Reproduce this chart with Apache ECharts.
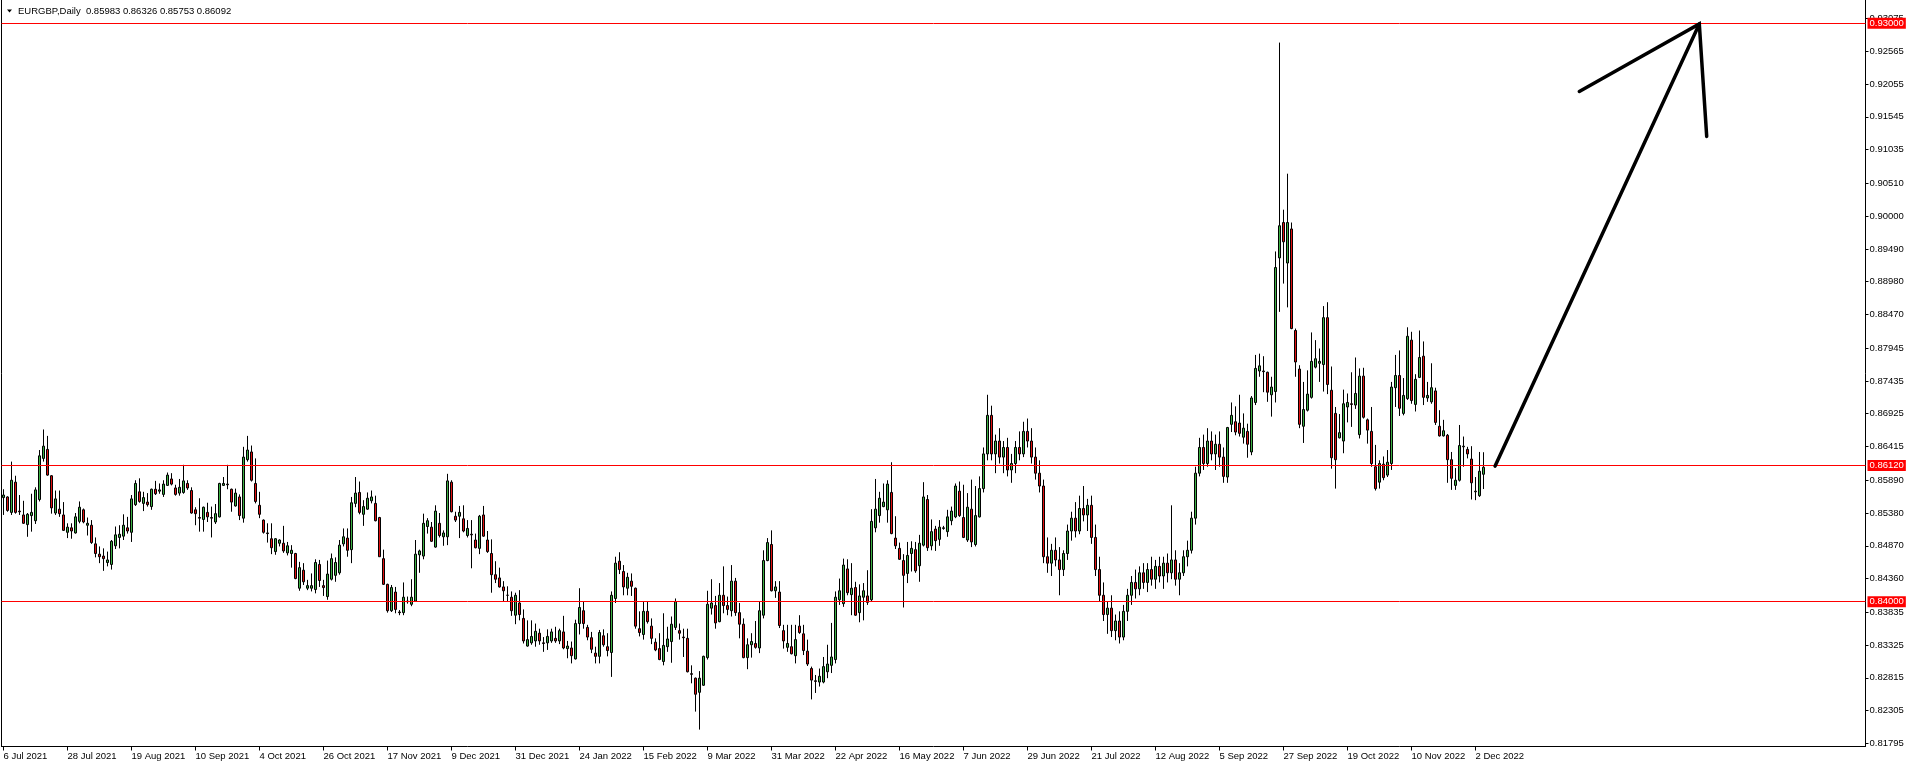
<!DOCTYPE html>
<html>
<head>
<meta charset="utf-8">
<script src="https://cdn.jsdelivr.net/npm/echarts@6/dist/echarts.min.js"></script>
<style>
html,body{margin:0;padding:0;background:#fff;}
#chart{width:1912px;height:768px;}
</style>
</head>
<body>
<div id="chart"></div>
<script>
const symbolTitle = 'EURGBP,Daily';
const lastBar = '0.85983 0.86326 0.85753 0.86092';

const tickLabels = ['6 Jul 2021','28 Jul 2021','19 Aug 2021','10 Sep 2021','4 Oct 2021','26 Oct 2021','17 Nov 2021','9 Dec 2021','31 Dec 2021','24 Jan 2022','15 Feb 2022','9 Mar 2022','31 Mar 2022','22 Apr 2022','16 May 2022','7 Jun 2022','29 Jun 2022','21 Jul 2022','12 Aug 2022','5 Sep 2022','27 Sep 2022','19 Oct 2022','10 Nov 2022','2 Dec 2022'];
const barsPerLabel = 16;
const totalSlots = 466;

const priceTicks = [0.93075,0.92565,0.92055,0.91545,0.91035,0.90510,0.90000,0.89490,0.88980,0.88470,0.87945,0.87435,0.86925,0.86415,0.85890,0.85380,0.84870,0.84360,0.83835,0.83325,0.82815,0.82305,0.81795];
const levels = [0.93000, 0.86120, 0.84000];
const bidPrice = 0.86092;

const arrowShaft = [[372.9, 0.8611], [423.95, 0.9299]];
const arrowHead = [[393.95, 0.9194], [423.95, 0.9299], [425.8, 0.9124]];

const opens = [
0.8562,0.8563,0.8539,0.8586,0.8541,0.8535,0.8520,0.8534,0.8526,0.8559,
0.8623,0.8637,0.8596,0.8538,0.8544,0.8535,0.8508,0.8515,0.8507,0.8525,
0.8543,0.8519,0.8519,0.8490,0.8474,0.8471,0.8461,0.8458,0.8487,0.8500,
0.8502,0.8515,0.8508,0.8551,0.8571,0.8553,0.8555,0.8548,0.8575,0.8572,
0.8567,0.8581,0.8591,0.8577,0.8569,0.8570,0.8584,0.8573,0.8543,0.8531,
0.8528,0.8539,0.8531,0.8524,0.8532,0.8581,0.8583,0.8575,0.8549,0.8563,
0.8530,0.8621,0.8633,0.8584,0.8550,0.8527,0.8507,0.8498,0.8478,0.8491,
0.8491,0.8476,0.8475,0.8475,0.8421,0.8449,0.8421,0.8421,0.8419,0.8458,
0.8425,0.8408,0.8435,0.8441,0.8445,0.8490,0.8499,0.8481,0.8553,0.8570,
0.8536,0.8544,0.8557,0.8553,0.8531,0.8467,0.8427,0.8386,0.8415,0.8384,
0.8383,0.8401,0.8396,0.8401,0.8473,0.8471,0.8517,0.8516,0.8485,0.8522,
0.8501,0.8501,0.8586,0.8533,0.8533,0.8529,0.8503,0.8505,0.8496,0.8483,
0.8535,0.8496,0.8475,0.8442,0.8437,0.8423,0.8410,0.8407,0.8379,0.8398,
0.8374,0.8331,0.8336,0.8339,0.8351,0.8336,0.8336,0.8339,0.8343,0.8339,
0.8353,0.8327,0.8328,0.8311,0.8366,0.8386,0.8360,0.8344,0.8320,0.8315,
0.8347,0.8330,0.8321,0.8405,0.8463,0.8447,0.8421,0.8432,0.8421,0.8358,
0.8349,0.8385,0.8362,0.8337,0.8327,0.8307,0.8330,0.8338,0.8360,0.8355,
0.8345,0.8343,0.8288,0.8281,0.8259,0.8270,0.8313,0.8390,0.8394,0.8369,
0.8410,0.8394,0.8386,0.8432,0.8383,0.8365,0.8313,0.8333,0.8335,0.8328,
0.8379,0.8464,0.8489,0.8417,0.8415,0.8355,0.8329,0.8330,0.8316,0.8362,
0.8350,0.8323,0.8296,0.8277,0.8275,0.8275,0.8291,0.8301,0.8310,0.8403,
0.8397,0.8451,0.8411,0.8422,0.8383,0.8407,0.8409,0.8403,0.8515,0.8534,
0.8548,0.8543,0.8570,0.8499,0.8483,0.8464,0.8444,0.8475,0.8481,0.8456,
0.8488,0.8559,0.8487,0.8513,0.8497,0.8514,0.8509,0.8526,0.8532,0.8572,
0.8531,0.8496,0.8544,0.8489,0.8532,0.8576,0.8630,0.8690,0.8630,0.8650,
0.8625,0.8640,0.8605,0.8615,0.8640,0.8630,0.8665,0.8650,0.8625,0.8600,
0.8580,0.8470,0.8460,0.8480,0.8465,0.8450,0.8475,0.8510,0.8530,0.8510,
0.8545,0.8535,0.8550,0.8500,0.8450,0.8410,0.8380,0.8390,0.8355,0.8370,
0.8345,0.8385,0.8410,0.8430,0.8420,0.8445,0.8430,0.8450,0.8435,0.8455,
0.8440,0.8460,0.8445,0.8465,0.8435,0.8445,0.8470,0.8480,0.8530,0.8600,
0.8640,0.8615,0.8650,0.8630,0.8645,0.8625,0.8594,0.8676,0.8680,0.8678,
0.8656,0.8665,0.8633,0.8710,0.8759,0.8759,0.8757,0.8722,0.8727,0.8935,
0.8990,0.8927,0.8980,0.8822,0.8762,0.8673,0.8698,0.8718,0.8765,0.8771,
0.8769,0.8842,0.8729,0.8693,0.8655,0.8650,0.8703,0.8708,0.8706,0.8660,
0.8751,0.8683,0.8665,0.8610,0.8586,0.8614,0.8597,0.8615,0.8733,0.8752,
0.8693,0.8716,0.8807,0.8707,0.8749,0.8782,0.8717,0.8711,0.8728,0.8673,
0.8658,0.8659,0.8621,0.8581,0.8589,0.8641,0.8637,0.8622,0.8571,0.8565,
0.85983];

const highs = [
0.8575,0.8564,0.8618,0.8596,0.8566,0.8557,0.8538,0.8568,0.8578,0.8636,
0.8668,0.8658,0.8597,0.8573,0.8573,0.8555,0.8522,0.8522,0.8538,0.8556,
0.8545,0.8531,0.8527,0.8500,0.8486,0.8483,0.8478,0.8496,0.8517,0.8519,
0.8536,0.8532,0.8566,0.8589,0.8592,0.8571,0.8569,0.8576,0.8588,0.8584,
0.8589,0.8601,0.8600,0.8582,0.8591,0.8613,0.8589,0.8578,0.8547,0.8561,
0.8548,0.8554,0.8548,0.8552,0.8585,0.8594,0.8613,0.8576,0.8576,0.8567,
0.8641,0.8658,0.8643,0.8623,0.8571,0.8528,0.8522,0.8522,0.8499,0.8497,
0.8518,0.8493,0.8488,0.8476,0.8462,0.8460,0.8434,0.8444,0.8466,0.8465,
0.8434,0.8464,0.8475,0.8469,0.8496,0.8514,0.8514,0.8563,0.8594,0.8587,
0.8558,0.8570,0.8573,0.8565,0.8532,0.8481,0.8428,0.8426,0.8423,0.8387,
0.8430,0.8408,0.8435,0.8496,0.8481,0.8537,0.8530,0.8524,0.8550,0.8538,
0.8511,0.8599,0.8589,0.8540,0.8549,0.8550,0.8527,0.8527,0.8506,0.8535,
0.8549,0.8510,0.8497,0.8463,0.8453,0.8432,0.8424,0.8416,0.8414,0.8418,
0.8388,0.8371,0.8371,0.8366,0.8358,0.8345,0.8357,0.8358,0.8361,0.8358,
0.8378,0.8339,0.8338,0.8372,0.8421,0.8400,0.8364,0.8353,0.8330,0.8356,
0.8357,0.8351,0.8416,0.8470,0.8477,0.8457,0.8445,0.8444,0.8422,0.8385,
0.8400,0.8400,0.8374,0.8343,0.8351,0.8382,0.8361,0.8377,0.8405,0.8366,
0.8358,0.8358,0.8301,0.8282,0.8292,0.8316,0.8417,0.8435,0.8409,0.8429,
0.8455,0.8408,0.8457,0.8437,0.8398,0.8374,0.8343,0.8351,0.8370,0.8400,
0.8480,0.8499,0.8511,0.8432,0.8432,0.8364,0.8364,0.8364,0.8364,0.8379,
0.8364,0.8341,0.8299,0.8286,0.8296,0.8314,0.8333,0.8367,0.8416,0.8436,
0.8467,0.8466,0.8460,0.8431,0.8427,0.8429,0.8449,0.8544,0.8591,0.8571,
0.8584,0.8589,0.8617,0.8533,0.8492,0.8474,0.8493,0.8494,0.8493,0.8504,
0.8586,0.8566,0.8528,0.8518,0.8527,0.8518,0.8543,0.8548,0.8584,0.8587,
0.8582,0.8569,0.8590,0.8580,0.8595,0.8640,0.8722,0.8705,0.8660,0.8670,
0.8650,0.8655,0.8630,0.8650,0.8665,0.8680,0.8685,0.8670,0.8640,0.8620,
0.8590,0.8500,0.8490,0.8500,0.8485,0.8480,0.8520,0.8540,0.8555,0.8565,
0.8580,0.8560,0.8565,0.8520,0.8470,0.8430,0.8400,0.8410,0.8380,0.8385,
0.8395,0.8420,0.8440,0.8450,0.8455,0.8460,0.8460,0.8470,0.8465,0.8470,
0.8470,0.8475,0.8550,0.8480,0.8460,0.8480,0.8495,0.8540,0.8610,0.8655,
0.8660,0.8670,0.8665,0.8660,0.8665,0.8640,0.8672,0.8710,0.8704,0.8722,
0.8693,0.8677,0.8720,0.8784,0.8786,0.8782,0.8758,0.8750,0.8945,0.9270,
0.9010,0.9066,0.8990,0.8825,0.8768,0.8742,0.8760,0.8819,0.8807,0.8794,
0.8860,0.8866,0.8766,0.8703,0.8692,0.8730,0.8724,0.8757,0.8780,0.8763,
0.8764,0.8685,0.8703,0.8644,0.8620,0.8626,0.8636,0.8742,0.8784,0.8791,
0.8748,0.8827,0.8820,0.8754,0.8822,0.8805,0.8742,0.8771,0.8733,0.8698,
0.8683,0.8661,0.8633,0.8608,0.8675,0.8657,0.8641,0.8642,0.8594,0.8633,
0.86326];

const lows = [
0.8535,0.8540,0.8535,0.8537,0.8535,0.8521,0.8501,0.8509,0.8521,0.8556,
0.8618,0.8596,0.8537,0.8535,0.8532,0.8510,0.8499,0.8498,0.8506,0.8522,
0.8522,0.8503,0.8490,0.8469,0.8460,0.8448,0.8455,0.8450,0.8482,0.8483,
0.8496,0.8506,0.8493,0.8549,0.8554,0.8541,0.8548,0.8543,0.8566,0.8568,
0.8563,0.8580,0.8581,0.8565,0.8565,0.8568,0.8574,0.8537,0.8519,0.8509,
0.8509,0.8524,0.8500,0.8521,0.8531,0.8580,0.8575,0.8540,0.8548,0.8527,
0.8523,0.8618,0.8587,0.8553,0.8530,0.8506,0.8492,0.8474,0.8473,0.8486,
0.8476,0.8472,0.8453,0.8435,0.8417,0.8426,0.8418,0.8416,0.8413,0.8423,
0.8409,0.8403,0.8433,0.8431,0.8442,0.8486,0.8470,0.8460,0.8547,0.8536,
0.8518,0.8543,0.8553,0.8525,0.8470,0.8426,0.8383,0.8384,0.8382,0.8379,
0.8379,0.8397,0.8393,0.8400,0.8445,0.8466,0.8506,0.8493,0.8484,0.8500,
0.8487,0.8488,0.8539,0.8524,0.8499,0.8508,0.8500,0.8452,0.8483,0.8474,
0.8501,0.8476,0.8414,0.8429,0.8422,0.8400,0.8400,0.8378,0.8365,0.8371,
0.8335,0.8330,0.8333,0.8330,0.8333,0.8322,0.8325,0.8336,0.8336,0.8334,
0.8326,0.8312,0.8304,0.8310,0.8349,0.8358,0.8340,0.8320,0.8304,0.8304,
0.8330,0.8315,0.8283,0.8398,0.8443,0.8410,0.8410,0.8409,0.8358,0.8346,
0.8341,0.8366,0.8334,0.8323,0.8309,0.8301,0.8322,0.8305,0.8356,0.8341,
0.8314,0.8290,0.8273,0.8229,0.8201,0.8269,0.8310,0.8380,0.8358,0.8368,
0.8382,0.8379,0.8377,0.8378,0.8343,0.8312,0.8295,0.8313,0.8327,0.8320,
0.8374,0.8463,0.8416,0.8406,0.8359,0.8327,0.8322,0.8318,0.8304,0.8350,
0.8317,0.8300,0.8248,0.8258,0.8268,0.8273,0.8281,0.8289,0.8304,0.8395,
0.8392,0.8410,0.8379,0.8378,0.8368,0.8371,0.8395,0.8400,0.8508,0.8523,
0.8547,0.8523,0.8505,0.8482,0.8465,0.8391,0.8429,0.8447,0.8445,0.8431,
0.8486,0.8479,0.8480,0.8479,0.8487,0.8512,0.8501,0.8519,0.8530,0.8532,
0.8499,0.8493,0.8485,0.8486,0.8531,0.8570,0.8620,0.8620,0.8600,0.8615,
0.8600,0.8595,0.8585,0.8600,0.8620,0.8625,0.8640,0.8615,0.8590,0.8570,
0.8460,0.8445,0.8440,0.8455,0.8410,0.8440,0.8465,0.8495,0.8500,0.8505,
0.8525,0.8510,0.8490,0.8440,0.8400,0.8370,0.8350,0.8345,0.8340,0.8335,
0.8340,0.8370,0.8395,0.8405,0.8410,0.8420,0.8415,0.8425,0.8420,0.8430,
0.8420,0.8430,0.8435,0.8425,0.8410,0.8440,0.8455,0.8475,0.8520,0.8595,
0.8605,0.8610,0.8620,0.8605,0.8610,0.8585,0.8585,0.8664,0.8659,0.8657,
0.8646,0.8624,0.8628,0.8706,0.8750,0.8726,0.8711,0.8688,0.8710,0.8851,
0.8895,0.8858,0.8824,0.8750,0.8670,0.8647,0.8696,0.8716,0.8763,0.8742,
0.8727,0.8723,0.8607,0.8576,0.8654,0.8631,0.8679,0.8672,0.8700,0.8654,
0.8685,0.8646,0.8610,0.8573,0.8576,0.8589,0.8594,0.8605,0.8703,0.8689,
0.8690,0.8714,0.8708,0.8696,0.8748,0.8706,0.8711,0.8708,0.8675,0.8657,
0.8657,0.8585,0.8574,0.8574,0.8587,0.8610,0.8623,0.8559,0.8558,0.8563,
0.85753];

const closes = [
0.8566,0.8542,0.8589,0.8539,0.8540,0.8522,0.8536,0.8539,0.8574,0.8627,
0.8642,0.8597,0.8546,0.8560,0.8537,0.8511,0.8516,0.8510,0.8532,0.8547,
0.8524,0.8522,0.8492,0.8475,0.8470,0.8467,0.8465,0.8494,0.8504,0.8505,
0.8519,0.8510,0.8560,0.8584,0.8556,0.8562,0.8551,0.8575,0.8568,0.8574,
0.8583,0.8597,0.8583,0.8567,0.8578,0.8588,0.8577,0.8538,0.8537,0.8530,
0.8547,0.8532,0.8530,0.8537,0.8584,0.8584,0.8582,0.8555,0.8569,0.8534,
0.8625,0.8636,0.8589,0.8556,0.8536,0.8508,0.8506,0.8484,0.8498,0.8496,
0.8479,0.8487,0.8480,0.8436,0.8453,0.8431,0.8425,0.8425,0.8461,0.8433,
0.8422,0.8443,0.8467,0.8461,0.8488,0.8501,0.8480,0.8554,0.8569,0.8539,
0.8548,0.8561,0.8563,0.8526,0.8470,0.8427,0.8386,0.8422,0.8388,0.8383,
0.8407,0.8400,0.8407,0.8474,0.8479,0.8522,0.8526,0.8494,0.8541,0.8503,
0.8507,0.8588,0.8540,0.8527,0.8539,0.8510,0.8514,0.8504,0.8484,0.8533,
0.8502,0.8478,0.8442,0.8435,0.8423,0.8417,0.8410,0.8386,0.8410,0.8380,
0.8339,0.8341,0.8346,0.8354,0.8339,0.8335,0.8346,0.8353,0.8339,0.8355,
0.8328,0.8331,0.8316,0.8366,0.8391,0.8366,0.8345,0.8326,0.8315,0.8352,
0.8333,0.8324,0.8410,0.8460,0.8450,0.8423,0.8438,0.8424,0.8362,0.8352,
0.8385,0.8369,0.8343,0.8325,0.8310,0.8332,0.8342,0.8365,0.8400,0.8351,
0.8344,0.8291,0.8287,0.8256,0.8281,0.8315,0.8396,0.8398,0.8367,0.8410,
0.8394,0.8388,0.8432,0.8383,0.8365,0.8313,0.8333,0.8338,0.8329,0.8386,
0.8464,0.8492,0.8417,0.8423,0.8363,0.8339,0.8335,0.8319,0.8341,0.8352,
0.8324,0.8303,0.8278,0.8276,0.8284,0.8299,0.8303,0.8314,0.8407,0.8417,
0.8457,0.8414,0.8421,0.8379,0.8409,0.8417,0.8399,0.8525,0.8544,0.8561,
0.8555,0.8583,0.8506,0.8487,0.8466,0.8441,0.8472,0.8483,0.8448,0.8491,
0.8563,0.8484,0.8509,0.8495,0.8516,0.8515,0.8532,0.8541,0.8580,0.8534,
0.8500,0.8547,0.8493,0.8534,0.8576,0.8630,0.8690,0.8630,0.8650,0.8625,
0.8640,0.8605,0.8615,0.8640,0.8630,0.8665,0.8650,0.8625,0.8600,0.8580,
0.8470,0.8460,0.8480,0.8465,0.8450,0.8475,0.8510,0.8530,0.8510,0.8545,
0.8535,0.8550,0.8500,0.8450,0.8410,0.8380,0.8390,0.8355,0.8370,0.8345,
0.8385,0.8410,0.8430,0.8420,0.8445,0.8430,0.8450,0.8435,0.8455,0.8440,
0.8460,0.8445,0.8465,0.8435,0.8445,0.8470,0.8480,0.8530,0.8600,0.8640,
0.8615,0.8650,0.8630,0.8645,0.8625,0.8595,0.8671,0.8690,0.8664,0.8662,
0.8670,0.8645,0.8717,0.8763,0.8767,0.8758,0.8726,0.8734,0.8920,0.8985,
0.8960,0.8990,0.8825,0.8773,0.8676,0.8699,0.8723,0.8774,0.8778,0.8774,
0.8842,0.8738,0.8624,0.8621,0.8663,0.8708,0.8710,0.8707,0.8724,0.8751,
0.8687,0.8667,0.8615,0.8576,0.8615,0.8593,0.8617,0.8734,0.8752,0.8701,
0.8721,0.8813,0.8713,0.8746,0.8780,0.8718,0.8721,0.8733,0.8679,0.8658,
0.8666,0.8621,0.8592,0.8589,0.8643,0.8642,0.8630,0.8585,0.8572,0.8603,
0.86092];

const FONT = 'Liberation Sans';
const categories = Array.from({length: totalSlots}, (_, i) => String(i));
const candles = opens.map((o, i) => [o, closes[i], lows[i], highs[i]]);
const showLabel = (idx) => idx % barsPerLabel === 0 && idx / barsPerLabel < tickLabels.length;

const yMax = 0.933626, yMin = 0.81747;

const chart = echarts.init(document.getElementById('chart'), null, {renderer: 'canvas'});
chart.setOption({
  animation: false,
  backgroundColor: '#ffffff',
  grid: {left: 1.5, right: 46.5, top: 0, bottom: 21.5, show: false},
  xAxis: [{
    type: 'category', data: categories, boundaryGap: true,
    axisLine: {show: true, lineStyle: {color: '#000', width: 1}},
    axisTick: {show: true, alignWithLabel: true, interval: (i) => showLabel(i), length: 4, lineStyle: {color: '#000'}},
    axisLabel: {show: true, interval: (i) => showLabel(i), formatter: (v, i) => tickLabels[i / barsPerLabel] || '',
      align: 'left', margin: 5, color: '#000', fontFamily: FONT, fontSize: 9.5},
    splitLine: {show: false}
  }, {
    type: 'value', min: -0.5, max: totalSlots - 0.5, show: false
  }],
  yAxis: [{
    type: 'value', position: 'right', min: yMin, max: yMax, scale: true,
    axisLine: {show: true, onZero: false, lineStyle: {color: '#000', width: 1}},
    axisTick: {show: true, customValues: priceTicks, length: 3, lineStyle: {color: '#000'}},
    axisLabel: {show: true, customValues: priceTicks, formatter: (v) => v.toFixed(5), margin: 4,
      color: '#000', fontFamily: FONT, fontSize: 9.5},
    splitLine: {show: false}
  }, {
    type: 'value', position: 'left', min: yMin, max: yMax,
    axisLine: {show: true, onZero: false, lineStyle: {color: '#000', width: 1}},
    axisTick: {show: false}, axisLabel: {show: false}, splitLine: {show: false}
  }],
  graphic: [
    {type: 'polygon', shape: {points: [[7, 9.5], [12, 9.5], [9.5, 12.5]]}, style: {fill: '#000'}},
    {type: 'text', left: 18, top: 6, style: {text: symbolTitle + '  ' + lastBar, fill: '#000', font: '9.5px "' + FONT + '"'}}
  ],
  series: [{
    type: 'candlestick',
    data: candles,
    barWidth: 2,
    itemStyle: {
      color: '#3cb043', color0: '#e01010',
      borderColor: '#000', borderColor0: '#000', borderColorDoji: '#000', borderWidth: 1
    },
    markLine: {
      silent: true, symbol: ['none', 'none'], animation: false, precision: 5,
      data: [
        {yAxis: bidPrice, lineStyle: {opacity: 0}, label: {backgroundColor: '#000'}},
        ...levels.map(v => ({yAxis: v}))
      ],
      lineStyle: {color: '#ff0000', width: 1, type: 'solid'},
      label: {show: true, position: 'end', distance: 2, formatter: (p) => Number(p.value).toFixed(5),
        backgroundColor: '#ff0000', color: '#fff', padding: [1, 2, 0, 2], fontFamily: FONT, fontSize: 9.5}
    }
  }, {
    type: 'line', xAxisIndex: 1, yAxisIndex: 0, data: arrowShaft, symbol: 'none',
    lineStyle: {color: '#000', width: 3.5, cap: 'round'}, z: 5
  }, {
    type: 'line', xAxisIndex: 1, yAxisIndex: 0, data: arrowHead, symbol: 'none',
    lineStyle: {color: '#000', width: 3.5, cap: 'round', join: 'miter'}, z: 5
  }]
});
</script>
</body>
</html>
